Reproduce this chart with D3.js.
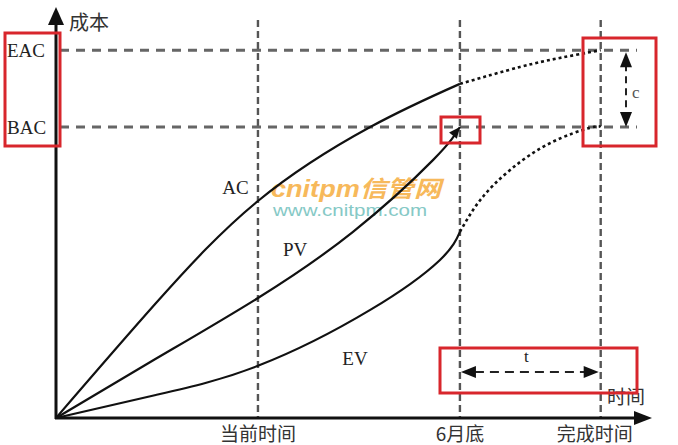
<!DOCTYPE html>
<html>
<head>
<meta charset="utf-8">
<script src="https://cdn.jsdelivr.net/npm/d3@7"></script>
<style>
  body { margin: 0; background: #fff; }
  svg { display: block; }
  .serif { font-family: "Liberation Serif", "DejaVu Serif", serif; fill: #222; }
  .cjk { font-family: "Noto Sans CJK SC", sans-serif; fill: #333; }
</style>
</head>
<body>
<div id="chart"></div>
<script>
// time axis marks and cost axis marks
var timeLabels = ["当前时间", "6月底", "完成时间"],
  timeTicks = [34, 68, 91.7],
  costLabels = ["EAC", "BAC"],
  costTicks = [89.5, 70.8];

// [time, cost] points
var acActual = [[0, 0], [16.8, 27.9], [34, 52.8], [52.9, 70.8], [68, 81.3]],
  acForecast = [[68, 81.3], [78.1, 85.4], [84.8, 87.6], [91.7, 89.5]],
  pvValues = [[0, 0], [16.8, 14.4], [34, 29.2], [50, 45.3], [63.5, 62.8], [68, 70.8]],
  evActual = [[0, 0], [16.8, 5.6], [34, 12.7], [52.9, 26.3], [64.6, 38.4], [68, 45.3]],
  evForecast = [[68, 45.3], [71.4, 53], [76.4, 60.3], [83.2, 66.9], [89.9, 70.6], [91.7, 70.8]];

var curveNames = ["AC", "PV", "EV"],
  curveLabelAt = [[28, 54.5], [38.2, 39.5], [48.2, 13]];

var width = 678,
  height = 445,
  x = d3.scaleLinear().domain([0, 100]).range([56, 650]),
  y = d3.scaleLinear().domain([0, 100]).range([418, 7]),
  red = "#d8262c";

var svg = d3.select("#chart").append("svg")
  .attr("width", width)
  .attr("height", height);

svg.append("rect").attr("width", width).attr("height", height).attr("fill", "#fff");

// vertical dashed guides
svg.append("g").selectAll("line")
  .data(timeTicks)
  .enter().append("line")
  .attr("x1", d => x(d)).attr("x2", d => x(d))
  .attr("y1", 20).attr("y2", y(0))
  .attr("stroke", "#555")
  .attr("stroke-width", 2.4)
  .attr("stroke-dasharray", "7,4");

// horizontal dashed guides
svg.append("g").selectAll("line")
  .data(costTicks)
  .enter().append("line")
  .attr("x1", x(0) + 4).attr("x2", 637)
  .attr("y1", d => y(d)).attr("y2", d => y(d))
  .attr("stroke", "#666")
  .attr("stroke-width", 3)
  .attr("stroke-dasharray", "9,7");

// watermark
svg.append("text")
  .attr("x", 271).attr("y", 197)
  .attr("textLength", 170).attr("lengthAdjust", "spacingAndGlyphs")
  .style("font-family", "'Liberation Sans', 'Noto Sans CJK SC', sans-serif")
  .style("font-weight", "bold").style("font-style", "italic")
  .style("font-size", "23px").style("fill", "#f7b24a").style("opacity", 0.9)
  .text("cnitpm信管网");
svg.append("text")
  .attr("x", 273).attr("y", 216)
  .attr("textLength", 154).attr("lengthAdjust", "spacingAndGlyphs")
  .style("font-family", "'Liberation Sans', sans-serif")
  .style("font-size", "17px").style("fill", "#86c9c6")
  .text("www.cnitpm.com");

// curves
var line = d3.line()
  .x(d => x(d[0]))
  .y(d => y(d[1]))
  .curve(d3.curveNatural);

[acActual, pvValues, evActual].forEach(function(s) {
  svg.append("path")
    .attr("d", line(s))
    .attr("fill", "none")
    .attr("stroke", "#111")
    .attr("stroke-width", 2.2);
});

[acForecast, evForecast].forEach(function(s) {
  svg.append("path")
    .attr("d", line(s))
    .attr("fill", "none")
    .attr("stroke", "#111")
    .attr("stroke-width", 2.6)
    .attr("stroke-dasharray", "3,3");
});

// PV arrow head
var pvEnd = pvValues[pvValues.length - 1],
  pvPrev = pvValues[pvValues.length - 2],
  ang = Math.atan2(y(pvEnd[1]) - y(pvPrev[1]), x(pvEnd[0]) - x(pvPrev[0]));
svg.append("path")
  .attr("d", "M0,0 L-11,-5 L-11,5 Z")
  .attr("fill", "#111")
  .attr("transform", "translate(" + x(pvEnd[0]) + "," + y(pvEnd[1]) + ") rotate(" + (ang * 180 / Math.PI) + ")");

// curve labels
svg.append("g").selectAll("text")
  .data(curveNames)
  .enter().append("text")
  .attr("class", "serif")
  .attr("x", (d, i) => x(curveLabelAt[i][0]))
  .attr("y", (d, i) => y(curveLabelAt[i][1]))
  .style("font-size", "19px")
  .text(d => d);

// axes
svg.append("line")
  .attr("x1", x(0)).attr("x2", x(0))
  .attr("y1", y(0) + 1).attr("y2", 22)
  .attr("stroke", "#111").attr("stroke-width", 3);
svg.append("path")
  .attr("d", "M" + x(0) + ",7 L" + (x(0) - 8) + ",25 L" + (x(0) + 8) + ",25 Z")
  .attr("fill", "#111");
svg.append("line")
  .attr("x1", x(0) - 1).attr("x2", 636)
  .attr("y1", y(0)).attr("y2", y(0))
  .attr("stroke", "#111").attr("stroke-width", 3);
svg.append("path")
  .attr("d", "M652," + y(0) + " L634," + (y(0) - 7) + " L634," + (y(0) + 7) + " Z")
  .attr("fill", "#111");

// axis titles
svg.append("text").attr("class", "cjk")
  .attr("x", 69).attr("y", 30)
  .style("font-size", "20px")
  .text("成本");
svg.append("text").attr("class", "cjk")
  .attr("x", 607).attr("y", 404)
  .style("font-size", "19px")
  .text("时间");

// time tick labels
var labelShift = [0, 0, -6];
svg.append("g").selectAll("text")
  .data(timeLabels)
  .enter().append("text")
  .attr("class", "cjk")
  .attr("x", (d, i) => x(timeTicks[i]) + labelShift[i])
  .attr("y", 441)
  .attr("text-anchor", "middle")
  .style("font-size", "19px")
  .text(d => d);

// cost tick labels
svg.append("g").selectAll("text")
  .data(costLabels)
  .enter().append("text")
  .attr("class", "serif")
  .attr("x", 7)
  .attr("y", d => y(costTicks[costLabels.indexOf(d)]) + 7)
  .style("font-size", "19px")
  .text(d => d);

// c arrow between EAC and BAC
var cx = 626;
svg.append("line")
  .attr("x1", cx).attr("x2", cx)
  .attr("y1", y(costTicks[0]) + 14).attr("y2", y(costTicks[1]) - 14)
  .attr("stroke", "#222").attr("stroke-width", 2)
  .attr("stroke-dasharray", "7,5");
svg.append("path")
  .attr("d", "M" + cx + "," + (y(costTicks[0]) + 2) + " l-6,15 l12,0 Z")
  .attr("fill", "#111");
svg.append("path")
  .attr("d", "M" + cx + "," + y(costTicks[1]) + " l-6,-15 l12,0 Z")
  .attr("fill", "#111");
svg.append("text").attr("class", "serif")
  .attr("x", 632).attr("y", 98)
  .style("font-size", "17px").style("fill", "#555")
  .text("c");

// t arrow between June and finish
var ty = 372,
  tx0 = x(timeTicks[1]) + 1,
  tx1 = x(timeTicks[2]) - 2;
svg.append("line")
  .attr("x1", tx0 + 14).attr("x2", tx1 - 14)
  .attr("y1", ty).attr("y2", ty)
  .attr("stroke", "#222").attr("stroke-width", 2)
  .attr("stroke-dasharray", "9,6");
svg.append("path")
  .attr("d", "M" + tx0 + "," + ty + " l15,-6 l0,12 Z")
  .attr("fill", "#111");
svg.append("path")
  .attr("d", "M" + tx1 + "," + ty + " l-15,-6 l0,12 Z")
  .attr("fill", "#111");
svg.append("text").attr("class", "serif")
  .attr("x", 524).attr("y", 362)
  .style("font-size", "17px")
  .text("t");

// red highlight boxes
var boxes = [
  [5, 33, 55, 113],
  [441, 117, 39, 26],
  [583, 38, 73, 108],
  [440, 348, 197, 45]
];
svg.append("g").selectAll("rect")
  .data(boxes)
  .enter().append("rect")
  .attr("x", d => d[0]).attr("y", d => d[1])
  .attr("width", d => d[2]).attr("height", d => d[3])
  .attr("fill", "none")
  .attr("stroke", red)
  .attr("stroke-width", 3);
</script>
</body>
</html>
